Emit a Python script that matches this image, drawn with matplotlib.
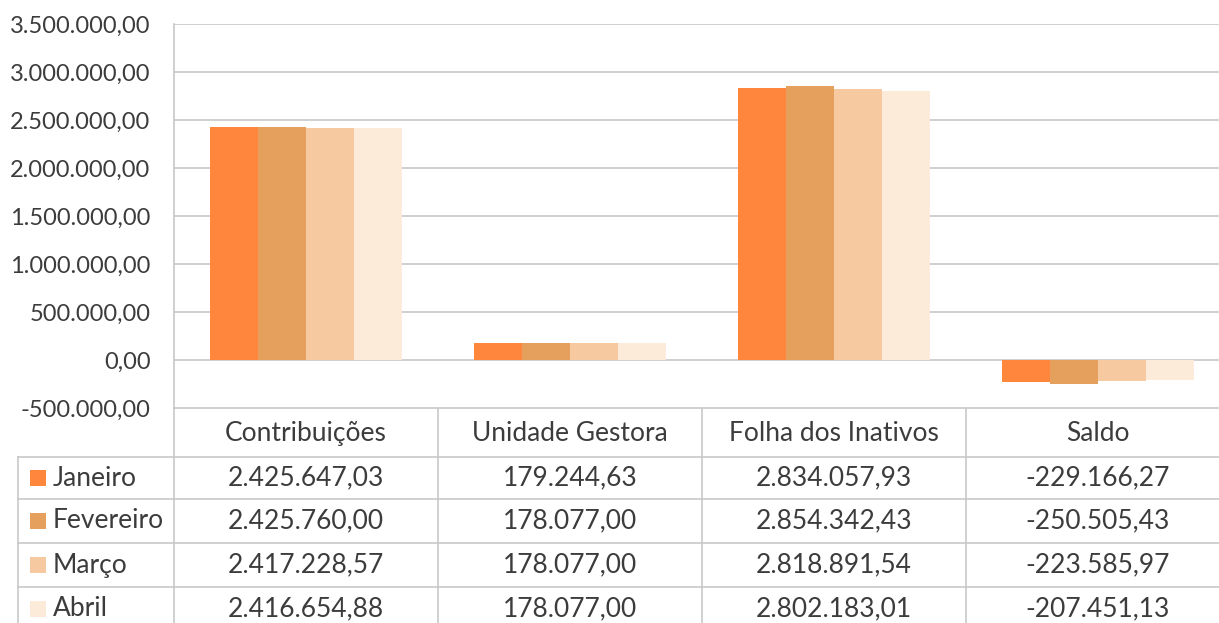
import matplotlib
matplotlib.use("Agg")
import matplotlib.pyplot as plt
import numpy as np

categorias = ["Contribuições", "Unidade Gestora", "Folha dos Inativos", "Saldo"]
meses = ["Janeiro", "Fevereiro", "Março", "Abril"]
janeiro = [2425647.03, 179244.63, 2834057.93, -229166.27]
fevereiro = [2425760.00, 178077.00, 2854342.43, -250505.43]
marco = [2417228.57, 178077.00, 2818891.54, -223585.97]
abril = [2416654.88, 178077.00, 2802183.01, -207451.13]
series = [janeiro, fevereiro, marco, abril]
cores = ["#ff873d", "#e5a05e", "#f6c9a0", "#fcebd8"]

y_ticks = np.arange(-500000, 3500001, 500000)


def fmt_br(v):
    s = f"{v:,.2f}"
    return s.replace(",", "X").replace(".", ",").replace("X", ".")


plt.rcParams["font.family"] = ["Lato", "DejaVu Sans"]
texto = "#3c3c3c"
grade = "#c8c8c8"

W, H = 1219, 623
fig = plt.figure(figsize=(W / 100, H / 100), dpi=100)

# plot area (pixel layout of the reference)
x0, y_top, y_bot, col_w = 174, 24, 408, 264
ax = fig.add_axes([x0 / W, 1 - y_bot / H, 4 * col_w / W, (y_bot - y_top) / H])
x = np.arange(len(categorias))
bw = 0.182
for i, (vals, cor) in enumerate(zip(series, cores)):
    ax.bar(x + (i - 1.5) * bw, vals, bw, color=cor, zorder=3, linewidth=0)

ax.set_xlim(-0.5, 3.5)
ax.set_ylim(-500000, 3500000)
ax.set_yticks(y_ticks)
ax.set_yticklabels([fmt_br(v) for v in y_ticks], fontsize=17, color=texto)
ax.set_xticks([])
ax.tick_params(axis="y", length=0, pad=17)
ax.grid(axis="y", color=grade, linewidth=1.2, zorder=0)
for s in ["right", "top", "bottom"]:
    ax.spines[s].set_visible(False)
ax.spines["left"].set_color(grade)
ax.spines["left"].set_linewidth(1.2)

# data table under the chart
tab = fig.add_axes([0, 0, 1, 1], zorder=-1)
tab.set_xlim(0, W)
tab.set_ylim(H, 0)
tab.axis("off")
linhas = [408, 457, 499, 543, 587, 631]
cols = [x0 + k * col_w for k in range(5)]
tab.plot([x0, W], [linhas[0]] * 2, color=grade, lw=1.2)
for yy in linhas[1:]:
    tab.plot([18, W], [yy, yy], color=grade, lw=1.2)
tab.plot([18, 18], [linhas[1], H], color=grade, lw=1.2)
for cx in cols:
    tab.plot([cx, cx], [linhas[0], H], color=grade, lw=1.2)

fs = 19
for j, cat in enumerate(categorias):
    cx = cols[j] + col_w / 2
    tab.text(cx, (linhas[0] + linhas[1]) / 2 + 1, cat, ha="center", va="center",
             fontsize=fs, color=texto)
    for i, vals in enumerate(series):
        cy = (linhas[i + 1] + linhas[i + 2]) / 2
        tab.text(cx, cy, fmt_br(vals[j]), ha="center", va="center",
                 fontsize=fs, color=texto)

for i, (mes, cor) in enumerate(zip(meses, cores)):
    cy = (linhas[i + 1] + linhas[i + 2]) / 2
    tab.add_patch(plt.Rectangle((30, cy - 8), 16, 16, color=cor, lw=0))
    tab.text(53, cy, mes, ha="left", va="center", fontsize=fs, color=texto)

fig.savefig("out.png", dpi=100)
